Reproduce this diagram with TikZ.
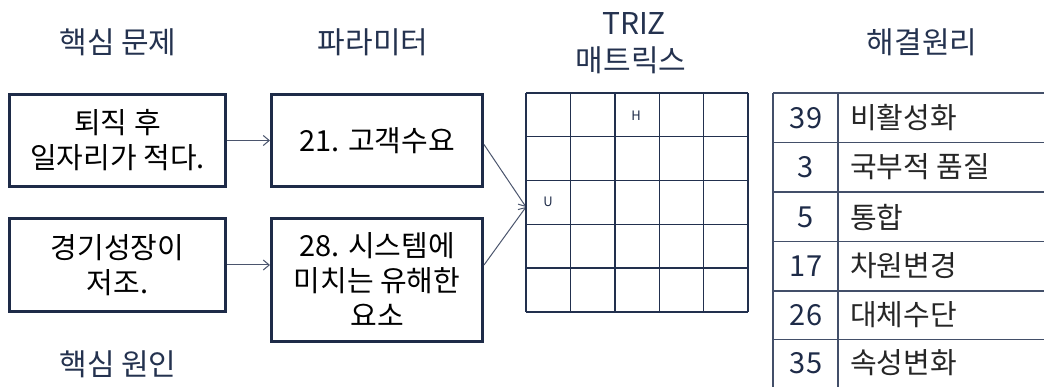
\documentclass[tikz,border=0pt]{standalone}
\usepackage{fontspec}
\setmainfont{Noto Sans CJK KR}
\usetikzlibrary{arrows.meta}
\definecolor{navy}{HTML}{1E2B48}
\definecolor{hdr}{HTML}{24324F}
\definecolor{gridc}{HTML}{22304E}
\begin{document}
\begin{tikzpicture}[x=1pt,y=-1pt,
  box/.style={draw=navy, line width=3pt, align=center, inner sep=0pt,
    font=\fontsize{29}{35}\selectfont, text=black},
  hdrtext/.style={text=hdr, font=\fontsize{30}{34}\selectfont, inner sep=0pt},
  conn/.style={draw=navy!80, line width=1pt, -{Straight Barb[length=6pt,width=10pt]}},
  gridline/.style={draw=gridc, line width=1.4pt},
  tabline/.style={draw=gridc!85, line width=1.1pt},
  num/.style={text=navy, font=\fontsize{29}{30}\selectfont, inner sep=0pt},
  prin/.style={text=black!85, font=\fontsize{29}{30}\selectfont, inner sep=0pt, anchor=west},
  cell/.style={text=navy, font=\fontsize{13}{15}\selectfont, inner sep=0pt}]
\useasboundingbox (0,0) rectangle (1044,387);
% headers
\node[hdrtext] (h1) at (118,42) {핵심 문제};
\node[hdrtext] (h2) at (373,42) {파라미터};
\node[hdrtext] (h3a) at (634,24) {TRIZ};
\node[hdrtext] (h3b) at (631,60) {매트릭스};
\node[hdrtext] (h4) at (922,42) {해결원리};
\node[hdrtext] (h5) at (118,364) {핵심 원인};
% boxes
\node[box, minimum width=216pt, minimum height=92pt] (a) at (117.5,140.5) {퇴직 후\\일자리가 적다.};
\node[box, minimum width=216pt, minimum height=93pt] (b) at (117.5,265) {경기성장이\\저조.};
\node[box, minimum width=211pt, minimum height=92pt] (c) at (377,140.5) {21. 고객수요};
\node[box, minimum width=211pt, minimum height=123pt] (d) at (377,280) {28. 시스템에\\미치는 유해한\\요소};
% arrows
\draw[conn] (a.east) -- (c.west);
\draw[conn] (b.east) -- (b.east -| d.west);
\coordinate (tip) at (526,207);
\draw[conn] ([yshift=-4pt]c.east) -- (tip);
\draw[conn] (d.east |- b.east) -- (tip);
% matrix grid
\foreach \x in {526,570.4,614.8,659.2,703.6,748} \draw[gridline] (\x,93) -- (\x,312);
\foreach \y in {93,136.8,180.6,224.4,268.2,312} \draw[gridline] (526,\y) -- (748,\y);
\node[cell] (hh) at (636,116) {H};
\node[cell] (uu) at (548,202) {U};
% table
\draw[tabline] (773,93) -- (773,387);
\draw[tabline] (838,93) -- (838,387);
\foreach \y in {93,142.5,192,241.5,291,339.5} \draw[tabline] (773,\y) -- (1044,\y);
\node[num] (n1) at (806,118) {39};
\node[num] (n2) at (806,167) {3};
\node[num] (n3) at (806,217) {5};
\node[num] (n4) at (806,266) {17};
\node[num] (n5) at (806,315) {26};
\node[num] (n6) at (806,363) {35};
\node[prin] (p1) at (850,118) {비활성화};
\node[prin] (p2) at (850,167) {국부적 품질};
\node[prin] (p3) at (850,217) {통합};
\node[prin] (p4) at (850,266) {차원변경};
\node[prin] (p5) at (850,315) {대체수단};
\node[prin] (p6) at (850,363) {속성변화};
\end{tikzpicture}
\end{document}
